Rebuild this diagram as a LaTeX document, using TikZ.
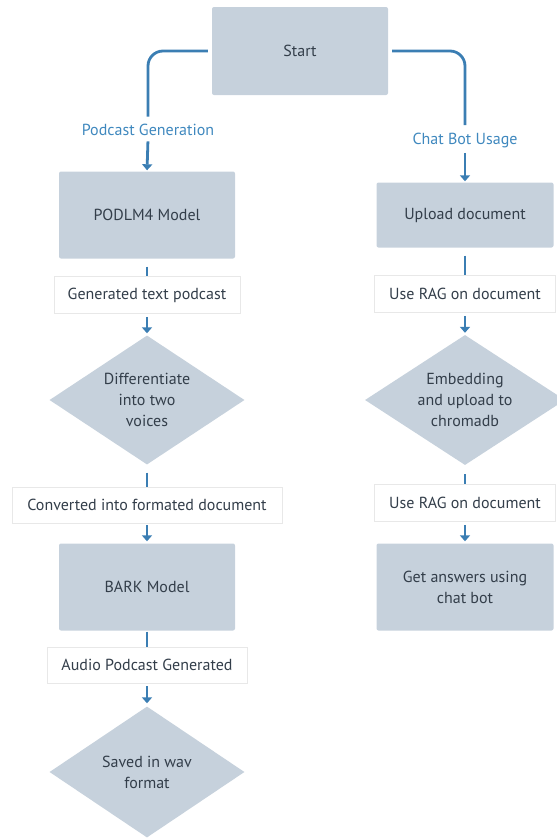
\documentclass[tikz,border=0pt]{standalone}
\usepackage{fontspec}
\setmainfont{PT Sans}
\usetikzlibrary{shapes.geometric,arrows.meta,backgrounds}
\definecolor{boxfill}{HTML}{C6D1DC}
\definecolor{linecol}{HTML}{3B7EB3}
\definecolor{txtcol}{HTML}{333E4A}
\definecolor{lblcol}{HTML}{3F88BE}
\tikzset{
  every node/.style={font=\fontsize{16}{21}\selectfont, text=txtcol, align=center},
  procbox/.style={rectangle, fill=boxfill, rounded corners=2pt, minimum width=176pt, inner sep=0pt},
  decbox/.style={diamond, fill=boxfill, aspect=1.5, inner sep=0pt, minimum width=195pt, minimum height=129pt},
  lblbox/.style={rectangle, fill=white, draw=gray!18, line width=0.6pt, minimum height=37pt, inner sep=0pt},
  branchlbl/.style={text=lblcol},
  conn/.style={draw=linecol, line width=2.8pt},
  arr/.style={conn, -{Triangle[width=10pt,length=6pt]}},
}
\begin{document}
\begin{tikzpicture}[x=1pt,y=-1pt]
\useasboundingbox (0,0) rectangle (557,839);
% nodes
\node[procbox, minimum height=88pt] (start) at (300,51) {Start};
\node[branchlbl] (pg) at (148,130) {Podcast Generation};
\node[branchlbl] (cb) at (465,140) {Chat Bot Usage};
% left column
\node[procbox, minimum height=87pt] (podlm) at (147,215) {PODLM4 Model};
\node[lblbox, minimum width=186pt] (l1) at (147,295) {Generated text podcast};
\node[decbox] (diff) at (147,400) {Differentiate\\into two\\voices};
\node[lblbox, minimum width=270pt, minimum height=36pt] (l2) at (147,505) {Converted into formated document};
\node[procbox, minimum height=87pt] (bark) at (147,587) {BARK Model};
\node[lblbox, minimum width=200pt, minimum height=36pt] (l3) at (147,665) {Audio Podcast Generated};
\node[decbox, minimum height=131pt] (wav) at (147,772) {Saved in wav\\format};
% right column
\node[procbox, minimum width=177pt, minimum height=65pt] (upl) at (465,215) {Upload document};
\node[lblbox, minimum width=181pt] (r1) at (465,294) {Use RAG on document};
\node[decbox, minimum width=200pt, minimum height=130pt] (emb) at (465,400) {Embedding\\and upload to\\chromadb};
\node[lblbox, minimum width=181pt] (r2) at (465,503) {Use RAG on document};
\node[procbox, minimum width=177pt, minimum height=87pt] (ans) at (465,587) {Get answers using\\chat bot};
% connectors
\begin{scope}[on background layer]
\draw[conn, rounded corners=15pt, shorten <=4pt, shorten >=4pt] (start.west) -| (pg.north);
\draw[arr, shorten <=2pt, shorten >=1pt] (pg.south) -- (podlm.north);
\draw[conn, rounded corners=15pt, shorten <=4pt, shorten >=4pt] (start.east) -| (cb.north);
\draw[arr, shorten <=2pt, shorten >=1pt] (cb.south) -- (upl.north);
\draw[conn, shorten <=8pt] (podlm.south) -- (l1.north);
\draw[arr, shorten <=3pt, shorten >=2pt] (l1.south) -- (diff.north);
\draw[conn, shorten <=8pt] (diff.south) -- (l2.north);
\draw[arr, shorten <=2pt, shorten >=2pt] (l2.south) -- (bark.north);
\draw[conn, shorten <=1pt] (bark.south) -- (l3.north);
\draw[arr, shorten <=3pt, shorten >=3pt] (l3.south) -- (wav.north);
\draw[conn, shorten <=8pt] (upl.south) -- (r1.north);
\draw[arr, shorten <=3pt, shorten >=2pt] (r1.south) -- (emb.north);
\draw[conn, shorten <=9pt] (emb.south) -- (r2.north);
\draw[arr, shorten <=3pt, shorten >=2pt] (r2.south) -- (ans.north);
\end{scope}
\end{tikzpicture}
\end{document}
